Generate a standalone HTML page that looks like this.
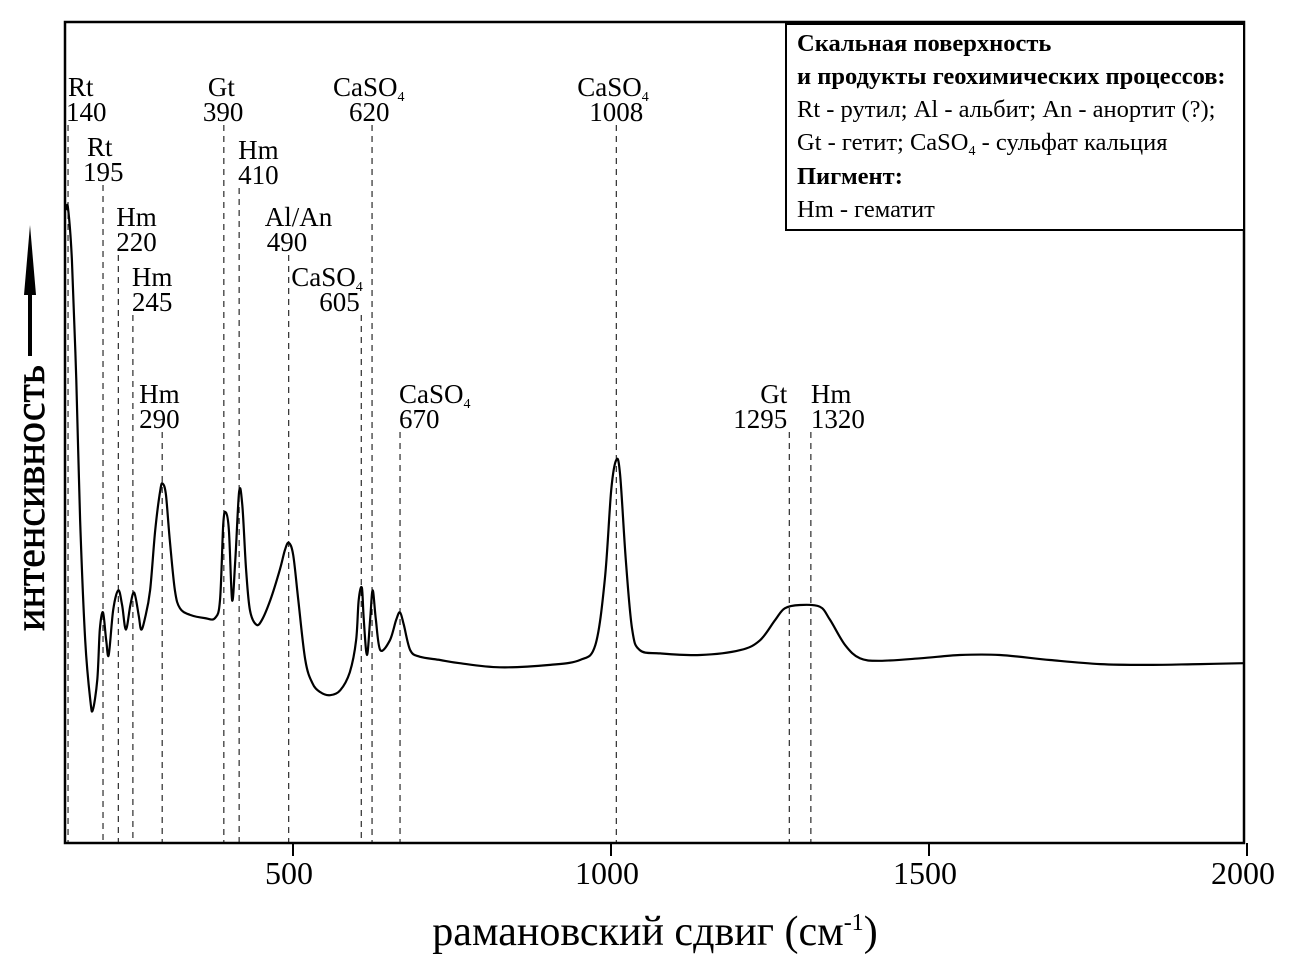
<!DOCTYPE html>
<html><head><meta charset="utf-8"><style>
html,body{margin:0;padding:0;background:#fff;}
svg{display:block;font-family:"Liberation Serif","DejaVu Serif",serif;}
</style></head><body>
<svg id="chart" width="1289" height="972" viewBox="0 0 1289 972">
<rect x="65" y="22" width="1179" height="821" fill="none" stroke="#000" stroke-width="2.5"/>
<g id="markers"></g>
<path id="spectrum" fill="none" stroke="#000" stroke-width="2.2"/>
<g id="ticks"></g>
<text x="655" y="945" font-size="42" text-anchor="middle">рамановский сдвиг (см<tspan dy="-15" font-size="24">-1</tspan><tspan dy="15">)</tspan></text>
<g>
<text transform="translate(44,498) rotate(-90)" font-size="42" text-anchor="middle" stroke="#000" stroke-width="0.6">интенсивность</text>
<line x1="30" y1="356" x2="30" y2="290" stroke="#000" stroke-width="4"/>
<polygon points="30,225 24,295 36,295" fill="#000"/>
</g>
<g font-size="24.5">
<rect x="786" y="24" width="458" height="206" fill="#fff" stroke="#000" stroke-width="2"/>
<text x="797" y="51" font-weight="bold">Скальная поверхность</text>
<text x="797" y="84" font-weight="bold">и продукты геохимических процессов:</text>
<text x="797" y="117">Rt - рутил; Al - альбит; An - анортит (?);</text>
<text x="797" y="150">Gt - гетит; CaSO<tspan font-size="14" dy="5">4</tspan><tspan dy="-5"> - сульфат кальция</tspan></text>
<text x="797" y="184" font-weight="bold">Пигмент:</text>
<text x="797" y="217">Hm - гематит</text>
</g>
<g id="labels" font-size="27"></g>
</svg>
<script>
const waveNumbers=[148,151,157,164,170,178,186,190,197,201,206,211,215,222,230,236,242,249,255,262,266,272,280,288,296,300,305,311,319,327,343,366,382,390,395,399,404,409,414,420,425,431,437,447,456,469,484,492,498,505,513,524,535,547,563,579,594,604,608,613,616,621,626,630,635,642,657,667,673,679,689,704,736,767,830,909,956,980,995,1005,1013,1019,1028,1038,1050,1082,1145,1208,1239,1263,1278,1302,1333,1349,1373,1396,1428,1491,1553,1616,1695,1774,1852,1931,2000];
const intensities=[77.1,77.3,71.0,56.3,39.3,24.6,17.3,16.1,19.8,25.9,28.0,24.6,22.8,28.3,30.7,28.9,25.9,28.9,30.4,27.7,25.9,27.3,30.7,38.0,42.9,43.7,42.3,36.8,30.7,28.5,27.7,27.3,27.3,29.5,38.7,40.2,38.0,29.5,34.4,42.7,41.1,33.2,28.3,26.5,27.1,29.5,33.2,35.6,36.5,35.0,29.5,22.2,19.4,18.3,17.9,18.5,20.7,24.6,29.5,31.0,27.1,22.8,27.1,30.7,27.1,23.4,24.6,27.1,28.0,26.5,23.4,22.6,22.2,21.8,21.3,21.6,22.2,24.0,32.0,42.9,46.6,44.8,34.4,25.9,23.4,23.0,22.8,23.4,24.6,27.1,28.5,28.9,28.7,27.1,24.0,22.4,22.1,22.4,22.8,22.8,22.2,21.7,21.6,21.7,21.8];
const tickValues=[500,1000,1500,2000];
const tickLabels=["500","1000","1500","2000"];
const markerPositions=[151,206,230,253,299,396,420,498,612,629,673,1013,1285,1319];
const markerTops=[125,185,255,315,432,125,188,255,315,125,432,125,432,432];
const markerNames=["Rt","Rt","Hm","Hm","Hm","Gt","Hm","Al/An","CaSO","CaSO","CaSO","CaSO","Gt","Hm"];
const markerNumbers=["140","195","220","245","290","390","410","490","605","620","670","1008","1295","1320"];
const NS="http://www.w3.org/2000/svg";
const xs=v=>290+(v-500)*0.636;
const ys=i=>842-i*8.2;
const P=waveNumbers.map((v,k)=>[Math.max(65,xs(v)),ys(intensities[k])]);
let d=`M${P[0][0]},${P[0][1]}`;
for(let k=0;k<P.length-1;k++){
 const p0=P[Math.max(0,k-1)],p1=P[k],p2=P[k+1],p3=P[Math.min(P.length-1,k+2)];
 const c1=[p1[0]+(p2[0]-p0[0])/6,p1[1]+(p2[1]-p0[1])/6];
 const c2=[p2[0]-(p3[0]-p1[0])/6,p2[1]-(p3[1]-p1[1])/6];
 d+=` C${c1[0].toFixed(1)},${c1[1].toFixed(1)} ${c2[0].toFixed(1)},${c2[1].toFixed(1)} ${p2[0].toFixed(1)},${p2[1].toFixed(1)}`;
}
document.getElementById('spectrum').setAttribute('d',d);
const tg=document.getElementById('ticks');
tickValues.forEach((v,k)=>{
 const x=xs(v)+3;
 const l=document.createElementNS(NS,'line');
 l.setAttribute('x1',x);l.setAttribute('x2',x);l.setAttribute('y1',843);l.setAttribute('y2',856);
 l.setAttribute('stroke','#000');l.setAttribute('stroke-width','2');
 
 
 tg.appendChild(l);
 const t=document.createElementNS(NS,'text');
 t.setAttribute('x',Math.min(x-4,1244));t.setAttribute('y',884);t.setAttribute('font-size','32');t.setAttribute('text-anchor','middle');
 t.textContent=tickLabels[k];
 
 
 tg.appendChild(t);
});
const mg=document.getElementById('markers');
const lg=document.getElementById('labels');
const layout=[[0,-2,'start'],[-16,-20,'start'],[-2,-2,'start'],[-1,-1,'start'],[-23,-23,'start'],[-16,-21,'start'],[-1,-1,'start'],[-24,-22,'start'],[-70,-42,'start'],[-39,-23,'start'],[-1,-1,'start'],[-39,-27,'start'],[-2,-2,'end'],[0,0,'start']];
markerPositions.forEach((v,k)=>{
 const x=xs(v);
 const l=document.createElementNS(NS,'line');
 l.setAttribute('x1',x);l.setAttribute('x2',x);l.setAttribute('y1',markerTops[k]);l.setAttribute('y2',842);
 l.setAttribute('stroke','#000');l.setAttribute('stroke-width','1');l.setAttribute('stroke-dasharray','6,5');
 
 
 mg.appendChild(l);
 const [dn,dnum,anc]=layout[k];
 const top=markerTops[k];
 const t1=document.createElementNS(NS,'text');
 t1.setAttribute('x',x+dn);t1.setAttribute('y',top-29);t1.setAttribute('text-anchor',anc);
 t1.textContent=markerNames[k];
 if(markerNames[k]==='CaSO'){const s=document.createElementNS(NS,'tspan');s.setAttribute('font-size','14');s.setAttribute('dy','5');s.textContent='4';t1.appendChild(s);}
 
 
 lg.appendChild(t1);
 const t2=document.createElementNS(NS,'text');
 t2.setAttribute('x',x+dnum);t2.setAttribute('y',top-4);t2.setAttribute('text-anchor',anc);
 t2.textContent=markerNumbers[k];
 
 
 lg.appendChild(t2);
});
</script>
</body></html>
